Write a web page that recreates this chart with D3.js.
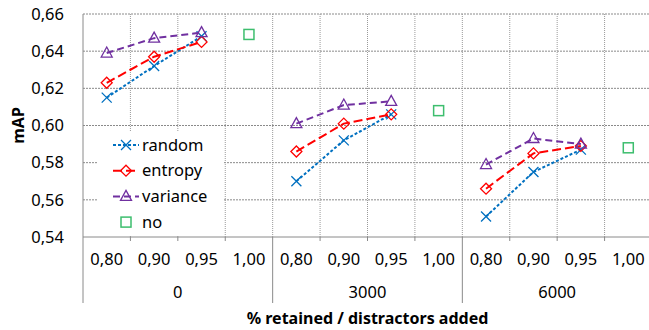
<!DOCTYPE html>
<html>
<head>
<meta charset="utf-8">
<script src="https://cdn.jsdelivr.net/npm/d3@7"></script>
<style>
  body { margin: 0; background: #fff; }
  text { font-family: "Noto Sans", "Open Sans", sans-serif; fill: #000; }
</style>
</head>
<body>
<div id="chart"></div>
<script>
// data
var groups = ["0", "3000", "6000"];
var retained = ["0,80", "0,90", "0,95", "1,00"];
var random   = [[0.615, 0.632, 0.648], [0.570, 0.592, 0.606], [0.551, 0.575, 0.587]];
var entropy  = [[0.623, 0.637, 0.645], [0.586, 0.601, 0.606], [0.566, 0.585, 0.589]];
var variance = [[0.639, 0.647, 0.650], [0.601, 0.611, 0.613], [0.579, 0.593, 0.590]];
var noRetain = [0.649, 0.608, 0.588];
var yTicks = [0.54, 0.56, 0.58, 0.60, 0.62, 0.64, 0.66];

var width = 649, height = 330;
var margin = { top: 14, right: -3, bottom: 93, left: 83 };
var chartWidth = width - margin.left - margin.right;
var chartHeight = height - margin.top - margin.bottom;

var svg = d3.select("#chart").append("svg")
    .attr("width", width)
    .attr("height", height);

var chartGroup = svg.append("g")
    .attr("transform", `translate(${margin.left}, ${margin.top})`);

// category keys: group|retained
var cats = [];
groups.forEach(g => retained.forEach(r => cats.push(g + "|" + r)));

var x = d3.scaleBand().domain(cats).range([0, chartWidth]);
var y = d3.scaleLinear().domain([0.54, 0.66]).range([chartHeight, 0]);

var loc = d3.formatLocale({ decimal: ",", thousands: ".", grouping: [3], currency: ["", ""] });
var fmt = loc.format(".2f");

// horizontal gridlines
chartGroup.append("g").selectAll("line")
    .data(yTicks.slice(1))
    .enter().append("line")
    .attr("x1", 0).attr("x2", chartWidth)
    .attr("y1", d => y(d)).attr("y2", d => y(d))
    .attr("stroke", "#8a8a8a")
    .attr("stroke-dasharray", "2,1");

// vertical gridlines between categories
chartGroup.append("g").selectAll("line")
    .data(cats.slice(1))
    .enter().append("line")
    .attr("x1", d => x(d)).attr("x2", d => x(d))
    .attr("y1", 0).attr("y2", chartHeight)
    .attr("stroke", "#9a9a9a")
    .attr("stroke-dasharray", "1,1");

// y axis
var leftAxis = d3.axisLeft(y).tickValues(yTicks).tickSize(0).tickPadding(19).tickFormat(fmt);
var yAxis = chartGroup.append("g").call(leftAxis);
yAxis.select(".domain").remove();
yAxis.selectAll("text").style("font-size", "16.5px").attr("font-family", null);

// left axis line (down into label area)
chartGroup.append("line")
    .attr("x1", 0).attr("x2", 0).attr("y1", 0).attr("y2", chartHeight + 66)
    .attr("stroke", "#8a8a8a");

// x axis baseline
chartGroup.append("line")
    .attr("x1", 0).attr("x2", chartWidth).attr("y1", chartHeight).attr("y2", chartHeight)
    .attr("stroke", "#8a8a8a");

// small category ticks and group separators
cats.slice(1).forEach(function (c, i) {
    var sep = (i + 1) % retained.length === 0;
    chartGroup.append("line")
        .attr("x1", x(c)).attr("x2", x(c))
        .attr("y1", chartHeight).attr("y2", chartHeight + (sep ? 66 : 4))
        .attr("stroke", "#8a8a8a");
});

// category labels
chartGroup.append("g").selectAll("text")
    .data(cats)
    .enter().append("text")
    .attr("x", d => x(d) + x.bandwidth() / 2)
    .attr("y", chartHeight + 28)
    .attr("text-anchor", "middle")
    .style("font-size", "16.5px")
    .text(d => d.split("|")[1]);

// group labels
chartGroup.append("g").selectAll("text")
    .data(groups)
    .enter().append("text")
    .attr("x", d => x(d + "|" + retained[0]) + 2 * x.bandwidth())
    .attr("y", chartHeight + 61)
    .attr("text-anchor", "middle")
    .style("font-size", "16.5px")
    .text(d => d);

// axis titles
svg.append("text")
    .attr("x", margin.left + chartWidth / 2)
    .attr("y", 324)
    .attr("text-anchor", "middle")
    .style("font-size", "16px")
    .style("font-weight", "bold")
    .text("% retained / distractors added");

svg.append("text")
    .attr("transform", `translate(24, ${margin.top + chartHeight / 2}) rotate(-90)`)
    .attr("text-anchor", "middle")
    .style("font-size", "16px")
    .style("font-weight", "bold")
    .text("mAP");

// markers
function drawMarker(g, type, cx, cy, color) {
    if (type === "x") {
        g.append("path")
            .attr("d", `M${cx - 5},${cy - 5}L${cx + 5},${cy + 5}M${cx - 5},${cy + 5}L${cx + 5},${cy - 5}`)
            .attr("stroke", color).attr("stroke-width", 1.3).attr("fill", "none");
    } else if (type === "diamond") {
        g.append("path")
            .attr("d", `M${cx},${cy - 5.5}L${cx + 5.5},${cy}L${cx},${cy + 5.5}L${cx - 5.5},${cy}Z`)
            .attr("stroke", color).attr("stroke-width", 1.3).attr("fill", "none");
    } else if (type === "triangle") {
        g.append("path")
            .attr("d", `M${cx},${cy - 6}L${cx + 5.5},${cy + 4}L${cx - 5.5},${cy + 4}Z`)
            .attr("stroke", color).attr("stroke-width", 1.3).attr("fill", "none");
    } else {
        g.append("rect")
            .attr("x", cx - 5).attr("y", cy - 5).attr("width", 10).attr("height", 10)
            .attr("stroke", color).attr("stroke-width", 1.5).attr("fill", "none");
    }
}

var series = [
    { name: "random", values: random, color: "#0070C0", dash: "3,2", marker: "x" },
    { name: "entropy", values: entropy, color: "#FF0000", dash: "9,4", marker: "diamond" },
    { name: "variance", values: variance, color: "#7030A0", dash: "7,4", marker: "triangle" }
];

var line = d3.line()
    .x(d => x(d.cat) + x.bandwidth() / 2)
    .y(d => y(d.v));

series.forEach(function (s) {
    var sg = chartGroup.append("g");
    s.values.forEach(function (vals, gi) {
        var pts = vals.map((v, j) => ({ cat: groups[gi] + "|" + retained[j], v: v }));
        sg.append("path")
            .attr("d", line(pts))
            .attr("fill", "none")
            .attr("stroke", s.color)
            .attr("stroke-width", 2)
            .attr("stroke-dasharray", s.dash);
        pts.forEach(p => drawMarker(sg, s.marker, x(p.cat) + x.bandwidth() / 2, y(p.v), s.color));
    });
});

var noG = chartGroup.append("g");
noRetain.forEach(function (v, gi) {
    var c = groups[gi] + "|" + retained[3];
    drawMarker(noG, "square", x(c) + x.bandwidth() / 2, y(v), "#3DBE6E");
});

// legend
var legend = svg.append("g").attr("transform", "translate(97, 132)");
legend.append("rect")
    .attr("width", 127).attr("height", 104)
    .attr("fill", "#fff");

var legendItems = series.map(s => s).concat([{ name: "no", color: "#3DBE6E", marker: "square" }]);
legendItems.forEach(function (s, i) {
    var ly = 13 + i * 25.7;
    if (s.dash) {
        legend.append("line")
            .attr("x1", 16).attr("x2", 42).attr("y1", ly).attr("y2", ly)
            .attr("stroke", s.color).attr("stroke-width", 2)
            .attr("stroke-dasharray", s.dash);
    }
    drawMarker(legend, s.marker, 29, ly, s.color);
    legend.append("text")
        .attr("x", 45).attr("y", ly)
        .attr("dy", "0.35em")
        .style("font-size", "16.5px")
        .text(s.name);
});
</script>
</body>
</html>
